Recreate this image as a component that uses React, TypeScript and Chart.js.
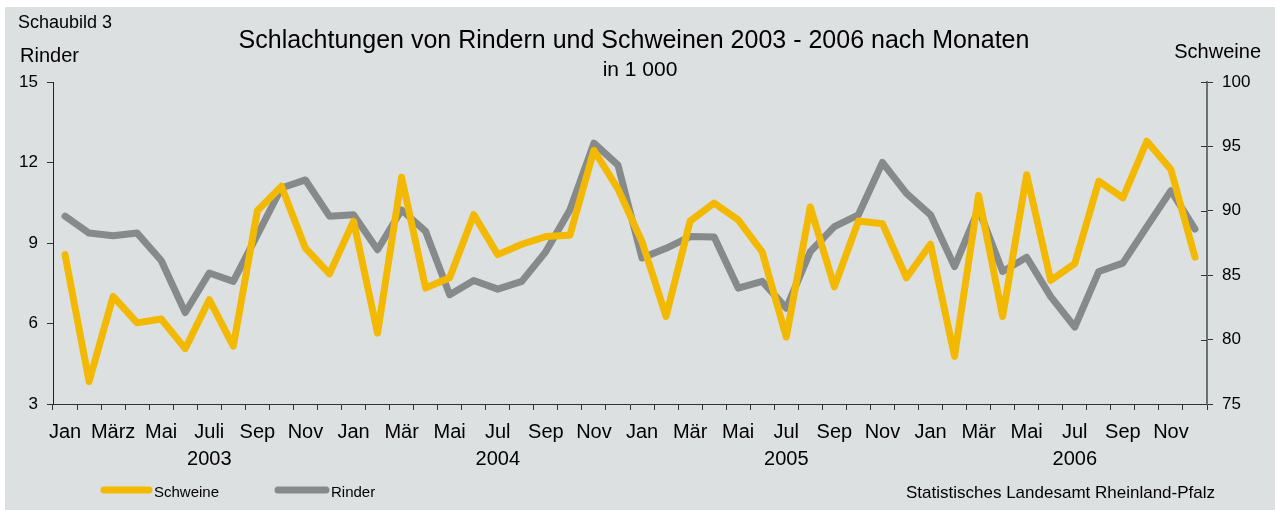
import React, { useEffect, useRef } from "react";
import { Chart, registerables } from "chart.js";

Chart.register(...registerables);

// ---- data ----
const years = ["2003", "2004", "2005", "2006"];
const months2003 = ["Jan", "Feb", "März", "Apr", "Mai", "Jun", "Juli", "Aug", "Sep", "Okt", "Nov", "Dez"];
const monthsLater = ["Jan", "Feb", "Mär", "Apr", "Mai", "Jun", "Jul", "Aug", "Sep", "Okt", "Nov", "Dez"];

// Rinder (left axis, in 1 000)
const rinder = [
  10.0, 9.37, 9.27, 9.37, 8.35, 6.41, 7.88, 7.57, 9.3, 11.05, 11.35, 10.0,
  10.05, 8.75, 10.23, 9.43, 7.07, 7.6, 7.28, 7.57, 8.68, 10.23, 12.72, 11.9,
  8.44, 8.8, 9.24, 9.22, 7.32, 7.57, 6.57, 8.68, 9.61, 10.05, 12.0, 10.85,
  10.05, 8.12, 10.26, 7.94, 8.47, 7.0, 5.87, 7.94, 8.25, 9.61, 10.95, 9.52,
];

// Schweine (right axis, in 1 000)
const schweine = [
  86.6, 76.75, 83.35, 81.3, 81.6, 79.3, 83.1, 79.5, 90.0, 91.9, 87.1, 85.1,
  89.2, 80.5, 92.6, 84.0, 84.8, 89.7, 86.6, 87.4, 88.0, 88.1, 94.7, 91.7,
  87.6, 81.8, 89.2, 90.6, 89.3, 86.8, 80.2, 90.3, 84.1, 89.2, 89.0, 84.8,
  87.4, 78.7, 91.2, 81.8, 92.8, 84.6, 85.9, 92.3, 91.0, 95.4, 93.2, 86.4,
];

const leftTicks = [3, 6, 9, 12, 15];
const rightTicks = [75, 80, 85, 90, 95, 100];

const labels: string[] = [];
years.forEach((y, yi) => {
  (yi === 0 ? months2003 : monthsLater).forEach((m) => labels.push(m));
});

const W = 1275;
const H = 510;
const FONT = "'Liberation Sans', Arial, sans-serif";
const YELLOW = "#f2b900";
const GREY = "#878a8a";
const BG = "#dde0e1";

const decor = {
  id: "decor",
  beforeDraw(chart: any) {
    const ctx = chart.ctx;
    ctx.save();
    ctx.fillStyle = "#ffffff";
    ctx.fillRect(0, 0, W, H);
    ctx.fillStyle = BG;
    ctx.fillRect(5, 7, W - 5, H - 7);
    ctx.restore();
  },
  afterDraw(chart: any) {
    const ctx = chart.ctx;
    const yr = chart.scales.ySchweine;
    ctx.save();
    // inward ticks on right axis
    ctx.strokeStyle = "#333";
    ctx.lineWidth = 1;
    rightTicks.forEach((v) => {
      const py = Math.round(yr.getPixelForValue(v)) + 0.5;
      ctx.beginPath();
      ctx.moveTo(yr.left - 6, py);
      ctx.lineTo(yr.left, py);
      ctx.stroke();
    });

    ctx.fillStyle = "#000";
    ctx.textBaseline = "alphabetic";
    ctx.textAlign = "left";
    ctx.font = `18px ${FONT}`;
    ctx.fillText("Schaubild 3", 18, 28);
    ctx.font = `20px ${FONT}`;
    ctx.fillText("Rinder", 20, 62);
    ctx.textAlign = "right";
    ctx.fillText("Schweine", 1261, 58);
    ctx.textAlign = "center";
    ctx.font = `25px ${FONT}`;
    ctx.fillText("Schlachtungen von Rindern und Schweinen 2003 - 2006 nach Monaten", 634, 48);
    ctx.font = `21px ${FONT}`;
    ctx.fillText("in 1 000", 640, 76);

    // legend
    ctx.lineCap = "round";
    ctx.lineWidth = 7;
    ctx.strokeStyle = YELLOW;
    ctx.beginPath();
    ctx.moveTo(104, 490);
    ctx.lineTo(149, 490);
    ctx.stroke();
    ctx.strokeStyle = GREY;
    ctx.beginPath();
    ctx.moveTo(278, 490);
    ctx.lineTo(326, 490);
    ctx.stroke();
    ctx.textAlign = "left";
    ctx.font = `15px ${FONT}`;
    ctx.fillText("Schweine", 154, 497);
    ctx.fillText("Rinder", 331, 497);

    ctx.textAlign = "right";
    ctx.font = `17px ${FONT}`;
    ctx.fillText("Statistisches Landesamt Rheinland-Pfalz", 1215, 498);
    ctx.restore();
  },
};

export default function App() {
  const ref = useRef<HTMLCanvasElement | null>(null);

  useEffect(() => {
    if (!ref.current) return;
    const chart = new Chart(ref.current, {
      type: "line",
      data: {
        labels,
        datasets: [
          {
            label: "Schweine",
            data: schweine,
            yAxisID: "ySchweine",
            borderColor: YELLOW,
            backgroundColor: YELLOW,
            borderWidth: 7,
            borderCapStyle: "round",
            borderJoinStyle: "round",
            pointRadius: 0,
            tension: 0,
          },
          {
            label: "Rinder",
            data: rinder,
            yAxisID: "yRinder",
            borderColor: GREY,
            backgroundColor: GREY,
            borderWidth: 7,
            borderCapStyle: "round",
            borderJoinStyle: "round",
            pointRadius: 0,
            tension: 0,
          },
        ],
      },
      options: {
        responsive: false,
        animation: false,
        devicePixelRatio: 1,
        layout: { padding: { top: 82, left: 0, right: 0, bottom: 0 } },
        plugins: {
          legend: { display: false },
          title: { display: false },
          tooltip: { enabled: false },
        },
        scales: {
          x: {
            type: "category",
            offset: true,
            grid: {
              offset: true,
              drawOnChartArea: false,
              drawTicks: true,
              tickLength: 6,
              color: "#333",
            },
            border: { display: true, color: "#333", width: 1 },
            ticks: {
              autoSkip: false,
              maxRotation: 0,
              minRotation: 0,
              padding: 9,
              color: "#000",
              font: { family: FONT, size: 20, lineHeight: 1.35 },
              callback: (_v: any, i: number) => {
                const m = i % 12;
                if (m % 2 !== 0) return "";
                const name = labels[i];
                if (m === 6) return [name, years[Math.floor(i / 12)]];
                return name;
              },
            },
            afterFit: (s: any) => {
              s.height = 106;
            },
          },
          yRinder: {
            type: "linear",
            position: "left",
            min: 3,
            max: 15,
            afterBuildTicks: (s: any) => {
              s.ticks = leftTicks.map((v) => ({ value: v }));
            },
            grid: { drawOnChartArea: false, tickLength: 6, color: "#333" },
            border: { display: true, color: "#222", width: 1 },
            ticks: {
              padding: 9,
              color: "#000",
              font: { family: FONT, size: 17 },
            },
            afterFit: (s: any) => {
              s.width = 53;
            },
          },
          ySchweine: {
            type: "linear",
            position: "right",
            min: 75,
            max: 100,
            afterBuildTicks: (s: any) => {
              s.ticks = rightTicks.map((v) => ({ value: v }));
            },
            grid: { drawOnChartArea: false, tickLength: 6, color: "#333" },
            border: { display: true, color: "#6f6f6f", width: 2 },
            ticks: {
              padding: 9,
              color: "#000",
              font: { family: FONT, size: 17 },
            },
            afterFit: (s: any) => {
              s.width = 68;
            },
          },
        },
      },
      plugins: [decor],
    } as any);
    return () => chart.destroy();
  }, []);

  return (
    <div style={{ position: "fixed", left: 0, top: 0, width: W, height: H }}>
      <canvas ref={ref} width={W} height={H} style={{ display: "block", width: W, height: H }} />
    </div>
  );
}
